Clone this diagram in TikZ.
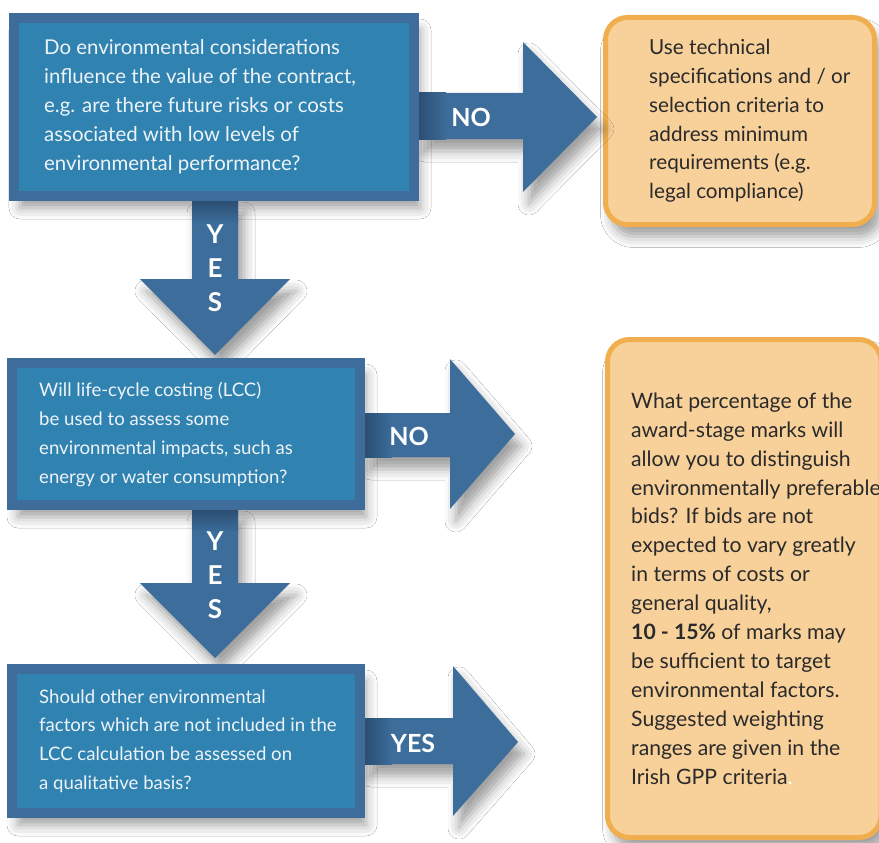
\documentclass[tikz,border=0pt]{standalone}
\usepackage{fontspec}
\setmainfont{Lato}
\usetikzlibrary{calc,shadows.blur}
\definecolor{qborder}{HTML}{3E6D9B}
\definecolor{qfill}{HTML}{3083B0}
\definecolor{arrowc}{HTML}{3C6D9B}
\definecolor{arrowdark}{HTML}{2C4E72}
\definecolor{ofill}{HTML}{F8D09A}
\definecolor{oborder}{HTML}{F0AE4E}
\definecolor{otext}{HTML}{2A2A2A}
\definecolor{qtextc}{HTML}{EEF3F8}
\begin{document}
\begin{tikzpicture}[x=1pt,y=-1pt,
  softshadow/.style={blur shadow={shadow xshift=6pt, shadow yshift=-12pt, shadow blur radius=11pt, shadow opacity=38}},
  qplain/.style={rectangle, draw=qborder, fill=qfill, line width=10pt, inner sep=0pt},
  qbox/.style={qplain, softshadow},
  obox/.style={rectangle, draw=oborder, fill=ofill, line width=5pt, rounded corners=22pt, inner sep=0pt, softshadow},
  qtext/.style={anchor=west, align=left, inner sep=0pt, text=qtextc},
  otextn/.style={anchor=west, align=left, inner sep=0pt, text=otext},
  fatarrow/.style={fill=arrowc, softshadow},
  hfade/.style={left color=arrowdark, right color=arrowc},
  vfade/.style={top color=arrowdark, bottom color=arrowc},
  lbl/.style={inner sep=0pt, text=white, font=\bfseries\fontsize{25}{25}\selectfont},
  vlbl/.style={inner sep=0pt, text=white, align=center, font=\bfseries\fontsize{26}{34}\selectfont}
]
\useasboundingbox (0,0) rectangle (879,843);
\clip (0,0) rectangle (879,843);
\fill[white] (0,0) rectangle (879,843);

% boxes with their shadows
\path (214,107) node[qbox, minimum width=400pt, minimum height=178pt] (b1) {};
\path (186,434) node[qbox, minimum width=348pt, minimum height=142pt] (b2) {};
\path (186,741) node[qbox, minimum width=348pt, minimum height=144pt] (b3) {};
\path (740,121) node[obox, minimum width=269pt, minimum height=207pt] (o1) {};
\path (744.25,588.5) node[obox, minimum width=273.5pt, minimum height=498pt] (o2) {};

% free tips of the last two arrows
\coordinate (tip2) at (515,434);
\coordinate (tip3) at (518,742);

% right arrow 1
\fill[fatarrow] (b1.east |- 0,93) -- (523,93) -- (523,42) -- ($(o1.west)+(-6,-4)$) -- (523,192) -- (523,139) -- (b1.east |- 0,139) -- cycle;
\fill[hfade] (b1.east |- 0,93) rectangle (446,139);
% right arrow 2
\fill[fatarrow] (b2.east |- 0,413) -- (450,413) -- (450,359) -- (tip2) -- (450,509) -- (450,457) -- (b2.east |- 0,457) -- cycle;
\fill[hfade] (b2.east |- 0,413) rectangle (392,457);
% right arrow 3
\fill[fatarrow] (b3.east |- 0,718) -- (453,718) -- (453,666) -- (tip3) -- (453,816) -- (453,764) -- (b3.east |- 0,764) -- cycle;
\fill[hfade] (b3.east |- 0,718) rectangle (392,764);
% down arrow 1
\fill[fatarrow] ($(b1.south)+(-22,0)$) -- ($(b1.south)+(-22,78)$) -- ($(b1.south)+(-74,78)$) -- ($(b2.north -| b1.south)+(1,-3)$) -- ($(b1.south)+(76,78)$) -- ($(b1.south)+(24,78)$) -- ($(b1.south)+(24,0)$) -- cycle;
\fill[vfade] ($(b1.south)+(-22,0)$) rectangle ($(b1.south)+(24,22)$);
% down arrow 2
\fill[fatarrow] ($(b1.south |- b2.south)+(-22,0)$) -- ($(b1.south |- b2.south)+(-22,73)$) -- ($(b1.south |- b2.south)+(-74,73)$) -- ($(b3.north -| b1.south)+(1,-6)$) -- ($(b1.south |- b2.south)+(76,73)$) -- ($(b1.south |- b2.south)+(24,73)$) -- ($(b1.south |- b2.south)+(24,0)$) -- cycle;
\fill[vfade] ($(b1.south |- b2.south)+(-22,0)$) rectangle ($(b1.south |- b2.south)+(24,22)$);

% boxes again, on top of the arrow shafts
\path (214,107) node[qplain, minimum width=400pt, minimum height=178pt] (b1r) {};
\path (186,434) node[qplain, minimum width=348pt, minimum height=142pt] (b2r) {};
\path (186,741) node[qplain, minimum width=348pt, minimum height=144pt] (b3r) {};

% labels
\node[lbl] (no1) at (471,117) {NO};
\node[lbl] (no2) at (409,436) {NO};
\node[lbl] (yes3) at (413,743) {YES};
\node[vlbl] (yes1) at (215,268) {Y\\E\\S};
\node[vlbl] (yes2) at (215,575) {Y\\E\\S};

% texts
\node[qtext, font=\fontsize{20.4}{29}\selectfont] (t1) at ([xshift=35pt]b1.west) {Do environmental considerations\\influence the value of the contract,\\e.g. are there future risks or costs\\associated with low levels of\\environmental performance?};
\node[qtext, font=\fontsize{18.6}{29}\selectfont] (t2) at ([xshift=32pt]b2.west) {Will life-cycle costing (LCC)\\be used to assess some\\environmental impacts, such as\\energy or water consumption?};
\node[qtext, font=\fontsize{18.6}{28.7}\selectfont] (t3) at ([xshift=32pt]b3.west) {Should other environmental\\factors which are not included in the\\LCC calculation be assessed on\\a qualitative basis?};
\node[otextn, font=\fontsize{20.7}{28.8}\selectfont] (u1) at ([xshift=46pt]o1.west) {Use technical\\specifications and / or\\selection criteria to\\address minimum\\requirements (e.g.\\legal compliance)};
\node[otextn, font=\fontsize{21.2}{28.9}\selectfont] (u2) at ([xshift=26pt]o2.west) {What percentage of the\\award-stage marks will\\allow you to distinguish\\environmentally preferable\\bids? If bids are not\\expected to vary greatly\\in terms of costs or\\general quality,\\\textbf{10 - 15\%} of marks may\\be sufficient to target\\environmental factors.\\Suggested weighting\\ranges are given in the\\Irish GPP criteria{\color{white}.}};
\end{tikzpicture}
\end{document}
